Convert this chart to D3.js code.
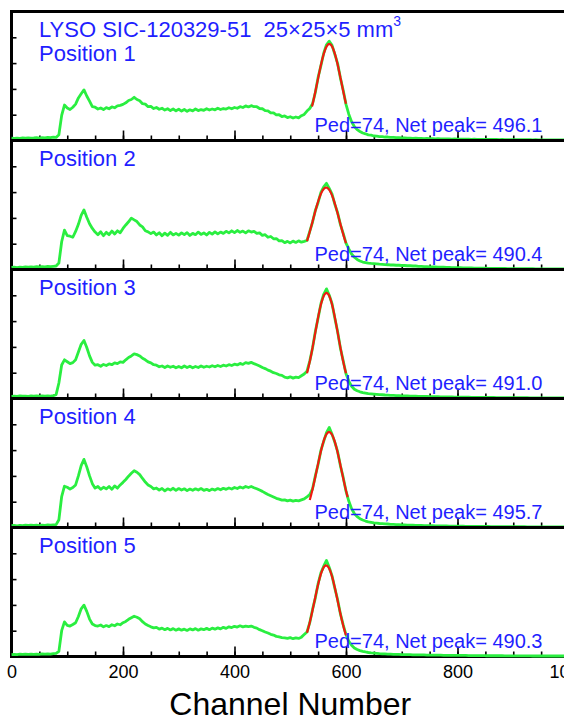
<!DOCTYPE html>
<html>
<head>
<meta charset="utf-8">
<script src="https://cdn.jsdelivr.net/npm/d3@7"></script>
<style>
  html, body { margin: 0; padding: 0; background: #fff; }
  svg { display: block; font-family: "Liberation Sans", Arial, sans-serif; }
</style>
</head>
<body>
<svg id="chart" width="564" height="721"></svg>
<script>
// ADC spectra of one LYSO plate measured at five source positions.
// Counts are stored per 5-channel bin, channels 0..1000.
const binWidth = 5;

const countsPos1 = [
  18,16,19,17,20,18,21,19,20,22,19,23,21,24,22,26,24,45,195,275,
  252,240,258,282,330,362,392,345,305,262,258,244,252,240,255,246,260,254,268,272,
  280,292,310,318,335,318,308,285,282,262,264,248,256,242,250,236,246,232,244,230,
  242,228,240,226,238,230,244,232,240,234,246,236,244,238,250,240,248,244,254,246,
  256,250,262,256,268,260,270,262,262,248,246,232,230,214,214,198,200,186,190,178,
  184,174,182,176,192,202,228,248,285,372,490,580,676,742,770,738,668,596,484,390,
  280,204,145,108,84,70,58,52,44,41,35,34,30,30,27,27,24,25,22,22,
  20,21,18,19,17,18,16,17,15,16,14,15,13,14,12,13,12,12,11,12,
  11,10,11,10,10,9,10,9,9,9,8,9,8,8,8,7,8,7,7,7,
  7,6,7,6,6,6,6,5,6,5,5,5,5,5,5,4,5,4,4,4,4
];
const countsPos2 = [
  16,18,15,19,17,20,18,21,19,22,20,23,21,24,22,25,27,50,215,305,
  262,258,250,295,350,420,462,405,355,318,290,270,292,262,288,270,298,275,300,285,
  318,345,370,398,385,372,345,330,300,292,278,290,268,285,262,282,265,288,268,280,
  266,284,270,286,264,280,270,290,272,284,268,288,274,292,276,290,280,296,284,300,
  286,302,288,298,284,300,290,296,280,284,264,270,250,256,238,240,222,224,208,218,
  206,220,210,222,212,218,225,295,368,458,520,598,640,668,628,584,505,440,348,280,
  205,160,120,95,78,66,58,54,50,47,45,43,41,40,38,37,35,35,33,33,
  31,31,29,29,27,27,25,25,23,23,21,21,20,19,18,18,17,16,15,15,
  14,14,13,13,12,12,11,11,10,10,10,9,9,9,8,8,8,8,7,7,
  7,7,7,6,6,6,6,6,5,5,5,5,5,5,5,4,4,4,4,4,4
];
const countsPos3 = [
  17,19,16,20,18,19,17,20,18,21,19,20,18,21,19,22,30,120,260,300,
  285,270,278,300,360,420,450,395,330,280,258,262,250,264,256,268,262,276,270,284,
  280,300,318,330,346,340,330,312,300,284,276,262,258,246,252,240,252,242,250,238,
  248,238,252,240,250,238,248,240,252,242,250,244,254,246,256,248,258,252,262,256,
  266,260,272,264,278,272,280,270,262,252,240,232,220,212,200,194,184,180,165,160,
  168,158,166,162,176,190,212,290,392,520,625,735,808,850,800,735,622,518,390,292,
  192,135,95,72,60,52,46,42,38,36,34,32,30,29,27,26,25,24,23,22,
  21,21,20,19,19,18,17,17,16,16,15,15,14,14,13,13,12,12,12,11,
  11,11,10,10,10,9,9,9,9,8,8,8,8,8,7,7,7,7,7,6,
  6,6,6,6,6,6,5,5,5,5,5,5,5,5,4,4,4,4,4,4,4
];
const countsPos4 = [
  14,16,13,17,15,18,16,19,17,18,15,19,17,20,18,21,22,60,240,320,
  312,298,310,330,400,480,528,470,400,340,305,318,296,312,300,318,296,322,305,330,
  350,372,398,420,440,428,410,380,352,330,318,300,306,290,302,284,300,290,304,288,
  302,290,300,286,298,288,300,290,302,288,296,286,298,290,302,292,304,296,306,298,
  310,302,314,306,318,310,318,308,300,290,280,268,256,246,236,226,220,212,214,206,
  212,204,210,206,214,222,238,255,300,400,490,598,668,735,775,722,660,588,478,388,
  282,205,145,108,84,68,58,50,44,40,36,34,31,30,28,27,25,24,23,22,
  21,20,19,19,18,17,17,16,15,15,14,14,13,13,12,12,12,11,11,11,
  10,10,10,9,9,9,9,8,8,8,8,8,7,7,7,7,7,6,6,6,
  6,6,6,6,6,5,5,5,5,5,5,5,5,4,4,4,4,4,4,4,4
];
const countsPos5 = [
  15,17,14,18,16,19,17,18,16,19,17,20,18,21,19,22,24,40,200,268,
  242,236,248,262,310,370,398,350,290,252,240,236,244,230,240,232,246,238,252,246,
  262,272,288,300,312,304,292,270,252,240,230,222,226,212,220,208,218,206,216,204,
  214,204,212,202,214,206,216,204,214,208,218,208,220,212,222,214,226,218,230,224,
  234,228,238,230,236,232,236,226,220,208,200,190,182,172,166,156,152,146,144,140,
  146,138,144,140,150,170,190,262,365,455,565,648,700,745,690,625,528,440,330,245,
  170,118,88,66,54,46,40,35,31,28,26,24,22,21,20,19,18,17,17,16,
  15,15,14,14,13,13,12,12,12,11,11,11,10,10,10,9,9,9,9,8,
  8,8,8,8,7,7,7,7,7,7,6,6,6,6,6,6,6,5,5,5,
  5,5,5,5,5,5,5,4,4,4,4,4,4,4,4,4,4,4,4,4,4
];

const positionLabels = ["Position 1", "Position 2", "Position 3", "Position 4", "Position 5"];
const pedestal = 74;
const netPeaks = [496.1, 490.4, 491.0, 495.7, 490.3];

// Gaussian photopeak fit per position
const fitAmp   = [748, 635, 818, 740, 706];
const fitSigma = [21.5, 23.6, 20.7, 22.0, 20.9];
const fitLo    = [539, 530, 530, 535, 530];
const fitHi    = [600, 600, 600, 603, 600];

const xLabelTicks = [0, 200, 400, 600, 800, 1000];
const xMinorTicks = d3.range(0, 1001, 50);
const yTicks = [200, 400, 600, 800];

const allCounts = [countsPos1, countsPos2, countsPos3, countsPos4, countsPos5];

// ---- layout ----
const svg = d3.select("#chart");
const left = 11.5, right = 569, top0 = 11.5, panelH = 129;
const blue = "#1f1fff", green = "#2aee40", red = "#f01a10";

const x = d3.scaleLinear().domain([0, 1000]).range([left, right]);

const panels = svg.append("g");
allCounts.forEach((counts, i) => {
  const top = top0 + i * panelH, bottom = top + panelH;
  const y = d3.scaleLinear().domain([0, 1000]).range([bottom, top]);
  const g = panels.append("g");

  // inward ticks along the bottom edge
  g.append("g").attr("transform", `translate(0,${bottom})`)
    .call(d3.axisTop(x).tickValues(xMinorTicks).tickSize(5).tickFormat(""))
    .call(a => a.select(".domain").remove())
    .call(a => a.selectAll("line").attr("stroke", "#000").attr("stroke-width", 1.6));
  g.append("g").attr("transform", `translate(0,${bottom})`)
    .call(d3.axisTop(x).tickValues(xLabelTicks).tickSize(10).tickFormat(""))
    .call(a => a.select(".domain").remove())
    .call(a => a.selectAll("line").attr("stroke", "#000").attr("stroke-width", 1.6));
  // inward ticks along the left edge
  g.append("g").attr("transform", `translate(${left},0)`)
    .call(d3.axisRight(y).tickValues(yTicks).tickSize(5).tickFormat(""))
    .call(a => a.select(".domain").remove())
    .call(a => a.selectAll("line").attr("stroke", "#000").attr("stroke-width", 1.6));

  // frame
  g.append("rect")
    .attr("x", left).attr("y", top)
    .attr("width", right - left).attr("height", panelH)
    .attr("fill", "none").attr("stroke", "#000").attr("stroke-width", 3);

  // measured spectrum
  const line = d3.line()
    .x((d, k) => x(k * binWidth))
    .y(d => y(d));
  g.append("path")
    .datum(counts)
    .attr("d", line)
    .attr("fill", "none")
    .attr("stroke", green)
    .attr("stroke-width", 2.8)
    .attr("stroke-linejoin", "round");

  // photopeak fit
  const mean = pedestal + netPeaks[i];
  const fitCh = d3.range(fitLo[i], fitHi[i] + 0.5, 1);
  const fitLine = d3.line()
    .x(c => x(c))
    .y(c => y(fitAmp[i] * Math.exp(-((c - mean) ** 2) / (2 * fitSigma[i] ** 2))));
  g.append("path")
    .datum(fitCh)
    .attr("d", fitLine)
    .attr("fill", "none")
    .attr("stroke", red)
    .attr("stroke-width", 2.2);

  // labels
  const labelY = i === 0 ? top + 49 : top + 25;
  g.append("text")
    .attr("x", 39).attr("y", labelY)
    .attr("fill", blue).attr("font-size", 22)
    .text(positionLabels[i]);
  g.append("text")
    .attr("x", 542.5).attr("y", bottom - 8.5)
    .attr("text-anchor", "end")
    .attr("fill", blue).attr("font-size", 20)
    .text(`Ped=${pedestal}, Net peak= ${netPeaks[i].toFixed(1)}`);
});

// sample title
const title = svg.append("text")
  .attr("x", 39).attr("y", top0 + 25.5)
  .attr("fill", blue).attr("font-size", 22)
  .style("white-space", "pre");
title.append("tspan").text("LYSO SIC-120329-51  25\u00d725\u00d75 mm");
title.append("tspan").attr("dy", -11).attr("font-size", 14).text("3");

// channel scale under the last panel
const lastBottom = top0 + 5 * panelH;
svg.append("g").attr("transform", `translate(0,${lastBottom})`)
  .call(d3.axisBottom(x).tickValues(xLabelTicks).tickSize(0).tickPadding(9).tickFormat(d3.format("d")))
  .call(a => a.select(".domain").remove())
  .call(a => a.selectAll("text")
    .attr("font-size", 18)
    .attr("font-family", "'Liberation Sans', Arial, sans-serif")
    .attr("fill", "#000"));

svg.append("text")
  .attr("x", (left + right) / 2).attr("y", 715)
  .attr("text-anchor", "middle")
  .attr("font-size", 32)
  .attr("fill", "#000")
  .text("Channel Number");
</script>
</body>
</html>
